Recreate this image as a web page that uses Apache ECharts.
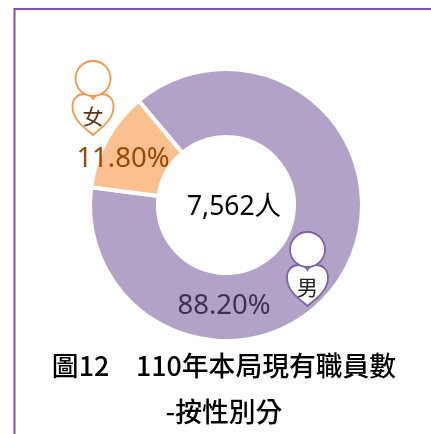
<!DOCTYPE html>
<html><head><meta charset="utf-8">
<style>html,body{margin:0;padding:0;background:#fff}#c{width:431px;height:434px}</style>
<script src="https://cdn.jsdelivr.net/npm/echarts@6/dist/echarts.min.js"></script>
</head><body><div id="c"></div>
<script>
const categories = ['男', '女'];
const percentValues = [88.20, 11.80];
const totalLabel = '7,562人';
const titleLine1 = '圖12　110年本局現有職員數';
const titleLine2 = '-按性別分';
const sliceColors = ['#b3a2c7', '#fac090'];
const labelColors = ['#403152', '#984807'];
const iconColors = ['#8064a2', '#f79646'];
const font = '"Noto Sans CJK TC","Noto Sans",sans-serif';
const numFont = '"Noto Sans","Noto Sans CJK TC",sans-serif';
const heart = 'M0,21 C-5,16 -21,7 -21,-8 C-21,-17 -15,-21 -9,-21 C-5,-21 -2,-20 0,-16 C2,-20 5,-21 9,-21 C15,-21 21,-17 21,-8 C21,7 5,16 0,21 Z';
const iconAnchors = [[307.5,249.5],[93,78.5]];
const chart = echarts.init(document.getElementById('c'), null, {renderer:'canvas'});
chart.setOption({
  animation:false,
  backgroundColor:'#fff',
  series:[{
    type:'pie', center:[226,205], radius:[68,136], startAngle:130, clockwise:true, z:2,
    silent:true, avoidLabelOverlap:false, labelLine:{show:false},
    itemStyle:{borderColor:'#fff', borderWidth:4},
    data:categories.map((n,i)=>({
      name:n, value:percentValues[i],
      itemStyle:{color:sliceColors[i]},
      label:{show:true, position:'inside', color:labelColors[i], fontFamily:numFont, fontSize:27.5,
        formatter:p=>p.value.toFixed(2)+'%',
        offset:i===0?[-94,51]:[-11,5]}
    }))
  },{
    type:'custom', coordinateSystem:'none', z:5, silent:true,
    data:categories.map((n,i)=>i),
    renderItem:(params)=>{
      const i=params.dataIndex, cx=iconAnchors[i][0], cy=iconAnchors[i][1], c=iconColors[i];
      return {type:'group', children:[
        {type:'path', shape:{pathData:heart, x:cx-21, y:cy+15.5, width:42, height:41}, style:{fill:'#fff', stroke:c, lineWidth:1.8}},
        {type:'circle', shape:{cx:cx, cy:cy, r:17.5}, style:{fill:'#fff', stroke:c, lineWidth:1.8}},
        {type:'text', style:{text:categories[i], x:cx, y:cy+38, align:'center', verticalAlign:'middle', font:'400 21px '+font, fill:i?'#5a3312':'#222'}}
      ]};
    }
  }],
  graphic:[
    {type:'polyline', z:1, shape:{points:[[14.5,434],[14.5,9],[431,9]]}, style:{fill:null, stroke:'#7f4fb5', lineWidth:2}},
    {type:'text', z:5, style:{text:totalLabel, x:234, y:207, align:'center', verticalAlign:'middle', font:'400 26.5px '+numFont, fill:'#000'}},
    {type:'text', z:5, style:{text:titleLine1, x:224, y:366, align:'center', verticalAlign:'middle', font:'500 26.8px '+font, fill:'#000'}},
    {type:'text', z:5, style:{text:titleLine2, x:224, y:412, align:'center', verticalAlign:'middle', font:'500 26.8px '+font, fill:'#000'}}
  ]
});
</script></body></html>
